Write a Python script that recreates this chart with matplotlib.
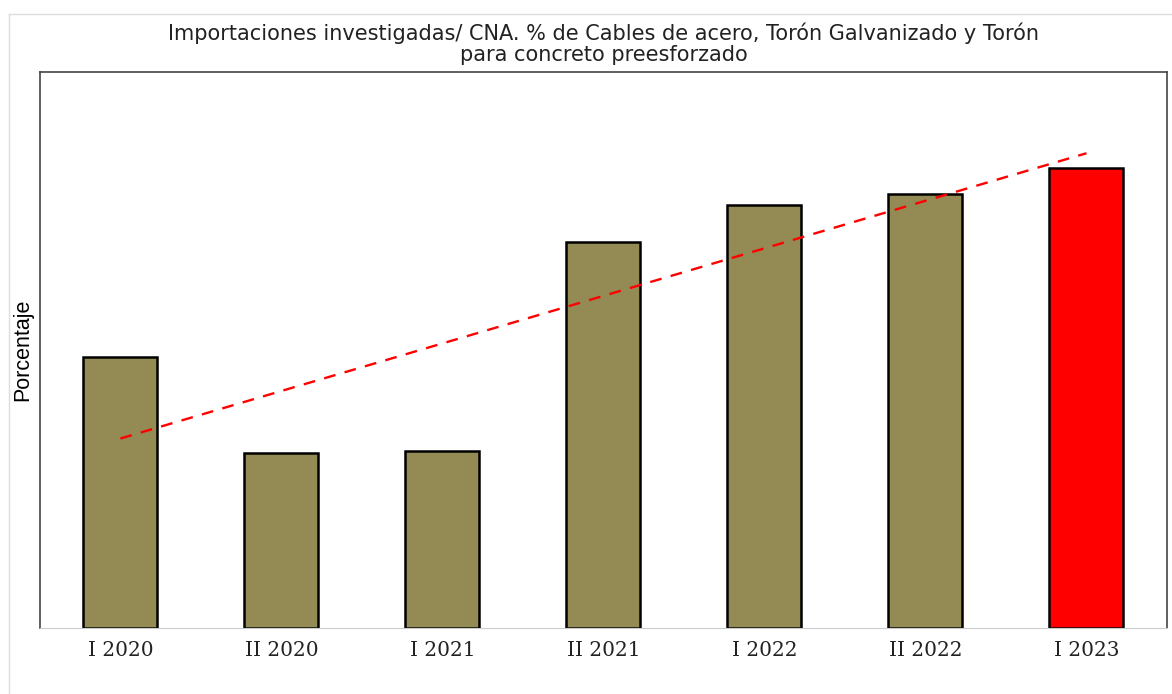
import numpy as np
import matplotlib.pyplot as plt
from matplotlib.lines import Line2D

# data (y axis has no scale, values are relative %)
periods = ['I 2020', 'II 2020', 'I 2021', 'II 2021', 'I 2022', 'II 2022', 'I 2023']
values = [48.7, 31.5, 31.8, 69.4, 76.1, 78.1, 82.7]
bar_colors = ['#948a54'] * 6 + ['#ff0000']

fig = plt.figure(figsize=(11.72, 6.94), dpi=100)
ax = fig.add_axes([0.034, 0.095, 0.9617, 0.801])

x = np.arange(len(periods))
ax.bar(x, values, width=0.46, color=bar_colors, edgecolor='black', linewidth=1.8, zorder=2)

# linear trend line
slope, intercept = np.polyfit(x, values, 1)
ax.plot(x, slope * x + intercept, color='#ff0000', linestyle=(0, (5, 4)), linewidth=1.7, zorder=3)

ax.set_xlim(-0.5, 6.5)
ax.set_ylim(0, 100)
ax.set_xticks(x)
ax.set_xticklabels(periods, fontfamily='DejaVu Serif', fontsize=14.5, color='#222222')
ax.tick_params(axis='x', length=0, pad=9)
ax.set_yticks([])
ax.set_ylabel('Porcentaje', fontfamily='Liberation Sans', fontsize=15.5, labelpad=5)

for side in ['left', 'top', 'right']:
    ax.spines[side].set_color('#444444')
    ax.spines[side].set_linewidth(1.2)
ax.spines['bottom'].set_color('#cccccc')

ax.set_title('Importaciones investigadas/ CNA. % de Cables de acero, Torón Galvanizado y Torón\npara concreto preesforzado',
             fontfamily='DejaVu Sans', fontsize=15, pad=8, linespacing=1.08, color='#222222')

# outer light frame
fig.add_artist(Line2D([9 / 1172, 1], [1 - 14 / 694] * 2, color='#dddddd', linewidth=1, transform=fig.transFigure))
fig.add_artist(Line2D([9 / 1172] * 2, [0, 1 - 14 / 694], color='#dddddd', linewidth=1, transform=fig.transFigure))

fig.savefig('out.png', dpi=100)
